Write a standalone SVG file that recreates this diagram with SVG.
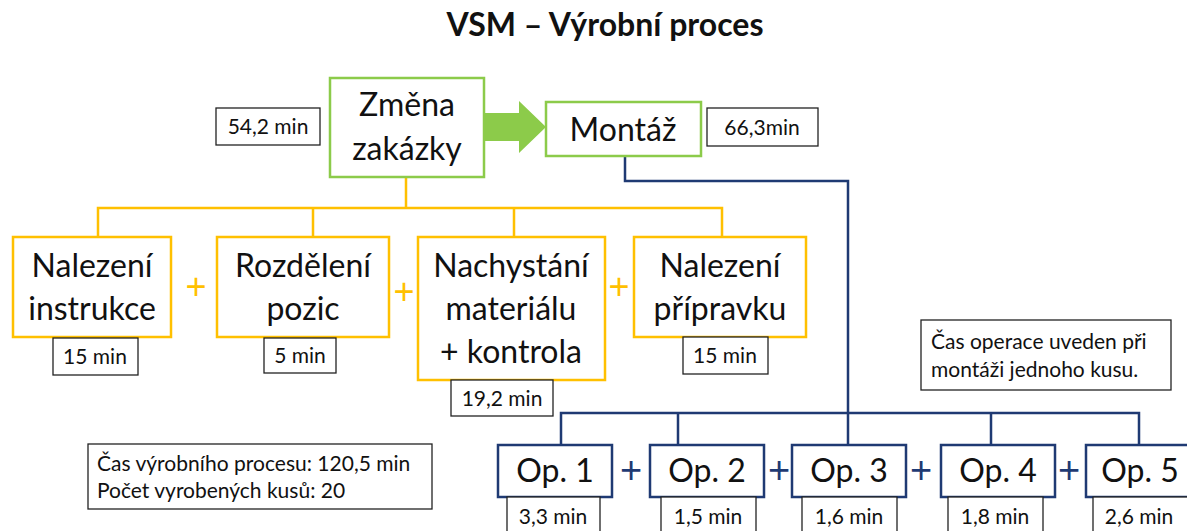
<svg xmlns="http://www.w3.org/2000/svg" width="1187" height="531" viewBox="0 0 1187 531">
<style>
.t{font-family:Lato,"Open Sans","Liberation Sans",sans-serif;fill:#111}
.big{font-size:32px;text-anchor:middle}
.sm{font-size:21px;text-anchor:middle}
.inf{font-size:21px}
.g{fill:#fff;stroke:#8CCB4A;stroke-width:2.5}
.y{fill:#fff;stroke:#FFC000;stroke-width:2.5}
.b{fill:#fff;stroke:#1F3A73;stroke-width:2.5}
.k{fill:#fff;stroke:#222;stroke-width:1.3}
.yl{fill:none;stroke:#FFC000;stroke-width:2.5}
.bl{fill:none;stroke:#1F3A73;stroke-width:2.5}
.py{font-size:36px;fill:#FFC000;text-anchor:middle;font-family:"Liberation Sans",sans-serif}
.pb{font-size:38px;fill:#1F3A73;text-anchor:middle;font-family:"Liberation Sans",sans-serif}
</style>
<rect width="1187" height="531" fill="#fff"/>
<text x="605" y="36" class="t" style="font-size:32px;font-weight:bold;text-anchor:middle">VSM – Výrobní proces</text>

<g id="connectors">
<path class="yl" d="M406 177V208M98 237V208H722V237M313 208V237M514 208V237"/>
<path class="bl" d="M625 156V181H848V413M561 445V413H1139V445M678 413V445M991 413V445M848 413V445"/>
<polygon points="484,113 519,113 519,101 546,127 519,153 519,141 484,141" fill="#8CCB4A"/>
</g>

<g id="zmena">
<rect class="g" x="330" y="78" width="154" height="99"/>
<text class="t big" x="407" y="116">Změna</text>
<text class="t big" x="407" y="160">zakázky</text>
</g>
<g id="t-zmena"><rect class="k" x="216" y="108" width="104" height="37"/><text class="t sm" x="268" y="134">54,2 min</text></g>

<g id="montaz">
<rect class="g" x="546" y="102" width="155" height="54"/>
<text class="t big" x="623" y="141">Montáž</text>
</g>
<g id="t-montaz"><rect class="k" x="707" y="108" width="111" height="38"/><text class="t sm" x="762" y="135">66,3min</text></g>

<g id="n1"><rect class="y" x="13" y="237" width="158" height="100"/>
<text class="t big" x="92" y="277">Nalezení</text><text class="t big" x="92" y="320">instrukce</text></g>
<g id="t1"><rect class="k" x="53" y="338" width="85" height="37"/><text class="t sm" x="95" y="364">15 min</text></g>

<g id="n2"><rect class="y" x="217" y="237" width="172" height="100"/>
<text class="t big" x="303" y="277">Rozdělení</text><text class="t big" x="303" y="320">pozic</text></g>
<g id="t2"><rect class="k" x="264" y="338" width="72" height="35"/><text class="t sm" x="300" y="363">5 min</text></g>

<g id="n3"><rect class="y" x="418" y="237" width="187" height="143"/>
<text class="t big" x="511" y="277">Nachystání</text><text class="t big" x="511" y="320">materiálu</text><text class="t big" x="511" y="363">+ kontrola</text></g>
<g id="t3"><rect class="k" x="451" y="380" width="102" height="36"/><text class="t sm" x="502" y="406">19,2 min</text></g>

<g id="n4"><rect class="y" x="634" y="237" width="172" height="100"/>
<text class="t big" x="720" y="277">Nalezení</text><text class="t big" x="720" y="320">přípravku</text></g>
<g id="t4"><rect class="k" x="683" y="337" width="85" height="37"/><text class="t sm" x="725" y="363">15 min</text></g>

<g id="plus-y">
<text class="py" x="196" y="299">+</text>
<text class="py" x="404" y="304">+</text>
<text class="py" x="619" y="299">+</text>
</g>

<g id="note"><rect class="k" x="921" y="320" width="250" height="70"/>
<text class="t inf" x="931" y="349">Čas operace uveden při</text>
<text class="t inf" x="931" y="377">montáži jednoho kusu.</text></g>

<g id="info"><rect class="k" x="88" y="444" width="344" height="65"/>
<text class="t inf" x="97" y="471">Čas výrobního procesu: 120,5 min</text>
<text class="t inf" x="97" y="498">Počet vyrobených kusů: 20</text></g>

<g id="op1"><rect class="b" x="498" y="445" width="114" height="52"/><text class="t big" x="555" y="482">Op. 1</text></g>
<g id="op1t"><rect class="k" x="507" y="497" width="93" height="40"/><text class="t sm" x="553" y="524">3,3 min</text></g>
<g id="op2"><rect class="b" x="650" y="445" width="114" height="52"/><text class="t big" x="707" y="482">Op. 2</text></g>
<g id="op2t"><rect class="k" x="661" y="497" width="95" height="40"/><text class="t sm" x="708" y="524">1,5 min</text></g>
<g id="op3"><rect class="b" x="792" y="445" width="114" height="52"/><text class="t big" x="849" y="482">Op. 3</text></g>
<g id="op3t"><rect class="k" x="802" y="497" width="95" height="40"/><text class="t sm" x="849" y="524">1,6 min</text></g>
<g id="op4"><rect class="b" x="941" y="445" width="114" height="52"/><text class="t big" x="998" y="482">Op. 4</text></g>
<g id="op4t"><rect class="k" x="948" y="497" width="95" height="40"/><text class="t sm" x="995" y="524">1,8 min</text></g>
<g id="op5"><rect class="b" x="1086" y="445" width="114" height="52"/><text class="t big" x="1140" y="482">Op. 5</text></g>
<g id="op5t"><rect class="k" x="1093" y="497" width="100" height="40"/><text class="t sm" x="1139" y="524">2,6 min</text></g>

<g id="plus-b">
<text class="pb" x="631" y="483">+</text>
<text class="pb" x="779" y="483">+</text>
<text class="pb" x="921" y="483">+</text>
<text class="pb" x="1069" y="483">+</text>
</g>
</svg>
